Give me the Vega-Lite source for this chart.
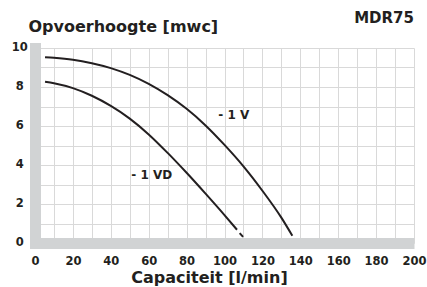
{
  "$schema": "https://vega.github.io/schema/vega-lite/v6.json",
  "width": 379,
  "height": 195,
  "autosize": "none",
  "padding": {"left": 35, "top": 48, "right": 13, "bottom": 44},
  "background": "white",
  "title": {
    "text": "MDR75",
    "anchor": "end",
    "frame": "group",
    "font": "DejaVu Sans",
    "fontWeight": "bold",
    "fontSize": 15,
    "color": "#231f20",
    "baseline": "alphabetic",
    "offset": 0,
    "dy": 20
  },
  "config": {
    "view": {"stroke": null},
    "axis": {
      "labelFont": "DejaVu Sans",
      "labelFontWeight": "bold",
      "labelFontSize": 11.5,
      "labelColor": "#231f20",
      "titleFont": "DejaVu Sans",
      "titleFontWeight": "bold",
      "titleFontSize": 16,
      "titleColor": "#231f20",
      "ticks": false,
      "tickSize": 0,
      "gridColor": "#d9d9d9",
      "gridWidth": 1,
      "gridOpacity": 1,
      "domainColor": "#d1d3d4",
      "domainWidth": 11
    }
  },
  "layer": [
    {
      "data": {
        "values": [
          {"x": 5.3, "y": 9.53, "s": "V"},
          {"x": 10, "y": 9.5, "s": "V"},
          {"x": 20, "y": 9.4, "s": "V"},
          {"x": 30, "y": 9.22, "s": "V"},
          {"x": 40, "y": 8.97, "s": "V"},
          {"x": 50, "y": 8.62, "s": "V"},
          {"x": 60, "y": 8.16, "s": "V"},
          {"x": 70, "y": 7.58, "s": "V"},
          {"x": 80, "y": 6.88, "s": "V"},
          {"x": 90, "y": 6.03, "s": "V"},
          {"x": 100, "y": 5.03, "s": "V"},
          {"x": 110, "y": 3.93, "s": "V"},
          {"x": 120, "y": 2.68, "s": "V"},
          {"x": 130, "y": 1.3, "s": "V"},
          {"x": 135.8, "y": 0.37, "s": "V"},
          {"x": 5.3, "y": 8.27, "s": "VD"},
          {"x": 10, "y": 8.19, "s": "VD"},
          {"x": 20, "y": 7.94, "s": "VD"},
          {"x": 30, "y": 7.55, "s": "VD"},
          {"x": 40, "y": 7.03, "s": "VD"},
          {"x": 50, "y": 6.38, "s": "VD"},
          {"x": 60, "y": 5.57, "s": "VD"},
          {"x": 70, "y": 4.62, "s": "VD"},
          {"x": 80, "y": 3.6, "s": "VD"},
          {"x": 90, "y": 2.53, "s": "VD"},
          {"x": 100, "y": 1.43, "s": "VD"},
          {"x": 106.6, "y": 0.68, "s": "VD"},
          {"x": 108, "y": 0.51, "s": "VDtail"},
          {"x": 109.8, "y": 0.31, "s": "VDtail"}
        ]
      },
      "mark": {"type": "line", "interpolate": "monotone", "color": "#231f20", "strokeWidth": 2},
      "encoding": {
        "x": {
          "field": "x",
          "type": "quantitative",
          "scale": {"domain": [0, 200], "nice": false},
          "axis": {
            "values": [0, 10, 20, 30, 40, 50, 60, 70, 80, 90, 100, 110, 120, 130, 140, 150, 160, 170, 180, 190, 200],
            "tickCount": 40,
            "format": "d",
            "labelExpr": "datum.value % 20 === 0 ? datum.label : ''",
            "labelPadding": 12,
            "labelBaseline": "top",
            "labelFlush": false,
            "labelOverlap": false,
            "domainCap": "butt",
            "title": "Capaciteit [l/min]",
            "titleX": 174,
            "titleY": 39,
            "titleBaseline": "alphabetic",
            "titleAlign": "center"
          }
        },
        "y": {
          "field": "y",
          "type": "quantitative",
          "scale": {"domain": [0, 10], "nice": false},
          "axis": {
            "values": [0, 1, 2, 3, 4, 5, 6, 7, 8, 9, 10],
            "tickCount": 30,
            "format": "d",
            "labelExpr": "datum.value % 2 === 0 ? datum.label : ''",
            "labelAlign": "center",
            "labelBaseline": "middle",
            "labelPadding": 15.8,
            "labelOffset": -1,
            "labelFlush": false,
            "labelOverlap": false,
            "domainCap": "square",
            "title": "Opvoerhoogte [mwc]",
            "titleAngle": 0,
            "titleAlign": "left",
            "titleBaseline": "alphabetic",
            "titleX": -7,
            "titleY": -17
          }
        },
        "detail": {"field": "s"}
      }
    },
    {
      "data": {
        "values": [
          {"x": 104.9, "y": 6.58, "label": "- 1 V"},
          {"x": 61.6, "y": 3.5, "label": "- 1 VD"}
        ]
      },
      "mark": {"type": "text", "font": "DejaVu Sans", "fontWeight": "bold", "fontSize": 12, "color": "#231f20", "align": "center", "baseline": "middle"},
      "encoding": {
        "x": {"field": "x", "type": "quantitative"},
        "y": {"field": "y", "type": "quantitative"},
        "text": {"field": "label"}
      }
    }
  ]
}
